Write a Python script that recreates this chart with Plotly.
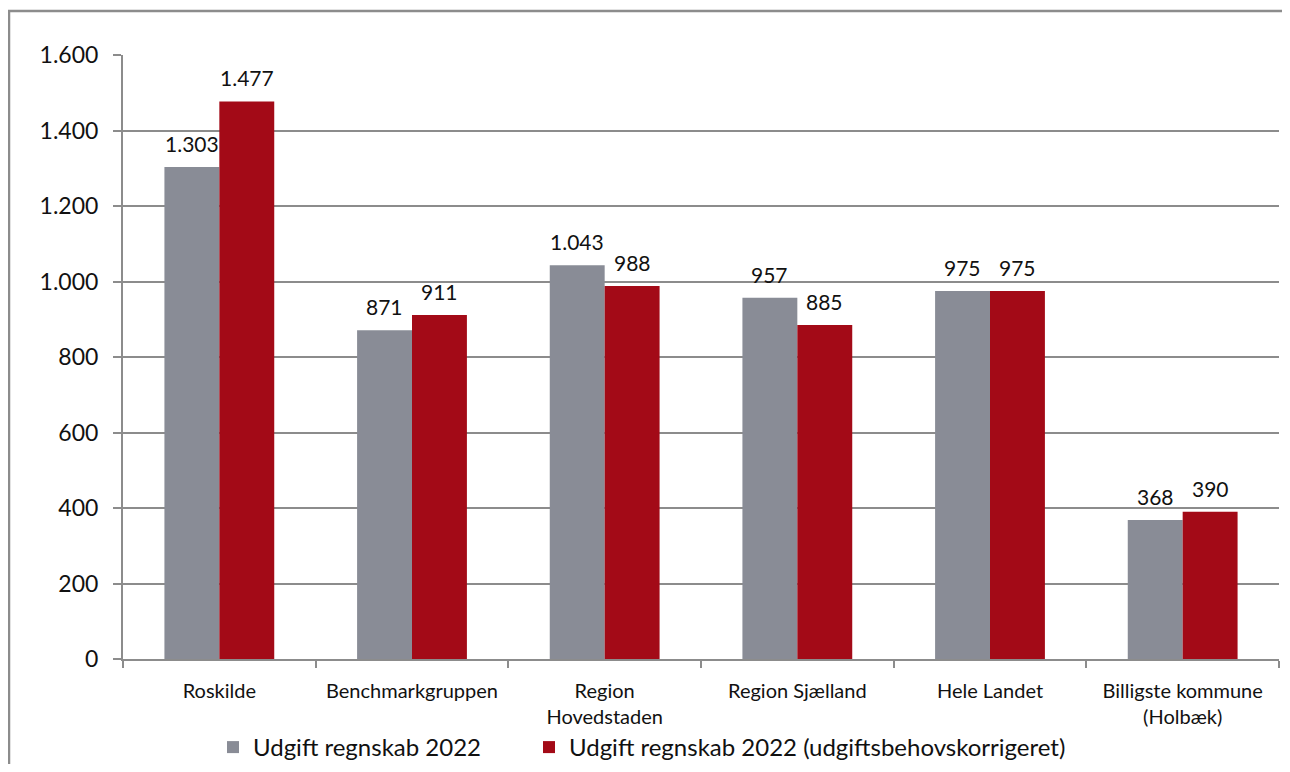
import plotly.graph_objects as go

categories = ["Roskilde", "Benchmarkgruppen", "Region<br>Hovedstaden", "Region Sjælland",
              "Hele Landet", "Billigste kommune<br>(Holbæk)"]
udgift = [1303, 871, 1043, 957, 975, 368]
udgift_korr = [1477, 911, 988, 885, 975, 390]
series_names = ["Udgift regnskab 2022", "Udgift regnskab 2022 (udgiftsbehovskorrigeret)"]
y_ticks = [0, 200, 400, 600, 800, 1000, 1200, 1400, 1600]

font_family = "Lato, 'Open Sans', sans-serif"

# page body has an 8px margin: figure is 16px smaller so the page stays 1290x772
W, H = 1274, 756
L, R, T, B = 115, 3, 47, 105
bargap = 0.43
plot_w = W - L - R
bar_px = plot_w / len(categories) * (1 - bargap) / 2

series = [(series_names[0], udgift, "#898C96", "legend"),
          (series_names[1], udgift_korr, "#A30A17", "legend2")]

fig = go.Figure()
for k, (name, vals, color, leg) in enumerate(series):
    fig.add_trace(go.Bar(
        x=categories, y=vals, name=name, marker_color=color,
        marker_line_width=0, legend=leg,
    ))
    # value labels, lifted a bit more than plotly's outside text would be
    shift = (k - 0.5) * bar_px
    for cat, v in zip(categories, vals):
        fig.add_annotation(x=cat, y=v, text=f"{v:,}".replace(",", "."),
                           showarrow=False, yanchor="bottom", xshift=shift, yshift=9,
                           font=dict(size=21, color="#111"))

legend_style = dict(orientation="h", xref="container", yref="container",
                    xanchor="left", yanchor="top", y=(H - 717) / H,
                    font=dict(size=24), itemwidth=30)
fig.update_layout(
    width=W, height=H,
    margin=dict(l=L, r=R, t=T, b=B, autoexpand=False),
    paper_bgcolor="white", plot_bgcolor="white",
    separators=",.",
    barmode="group", bargap=bargap, bargroupgap=0,
    font=dict(family=font_family, color="#111"),
    legend=dict(legend_style, x=205 / W),
    legend2=dict(legend_style, x=521 / W),
    showlegend=True,
)
fig.update_yaxes(range=[0, 1600], tickvals=y_ticks, tickformat=",",
                 showgrid=True, gridcolor="#8C8C8C", gridwidth=1.5,
                 showline=True, linecolor="#8C8C8C", linewidth=2,
                 ticks="outside", ticklen=8, tickcolor="#8C8C8C", tickwidth=2,
                 ticklabelstandoff=10, automargin=False,
                 tickfont=dict(size=23), zeroline=False)
fig.update_xaxes(showline=True, linecolor="#8C8C8C", linewidth=2,
                 ticks="outside", tickson="boundaries", ticklen=7,
                 tickcolor="#8C8C8C", tickwidth=2,
                 ticklabelstandoff=13, automargin=False,
                 tickfont=dict(size=20))

# outer chart frame, cut off by the image edge
plot_h = H - T - B
fig.add_shape(type="rect", xref="paper", yref="paper",
              x0=(1 - L) / plot_w, x1=1.05, y0=-0.3, y1=(plot_h + T - 3) / plot_h,
              line=dict(color="#8C8C8C", width=2.5), layer="below")

fig.write_html("out.html")
